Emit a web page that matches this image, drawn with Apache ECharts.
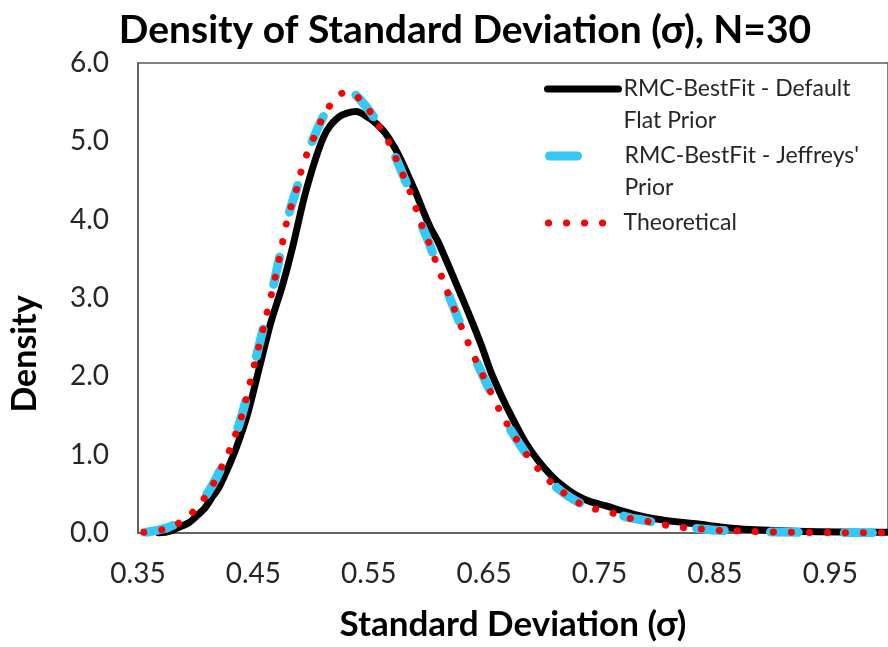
<!DOCTYPE html>
<html><head><meta charset="utf-8">
<script src="https://cdn.jsdelivr.net/npm/echarts@6/dist/echarts.min.js"></script>
<style>html,body{margin:0;padding:0;background:#fff}#c{width:888px;height:647px}</style>
</head><body><div id="c"></div>
<script>
// ---- data ----
const xTicks = [0.35, 0.45, 0.55, 0.65, 0.75, 0.85, 0.95];
const yTicks = [0, 1, 2, 3, 4, 5, 6];
const seriesNames = ["RMC-BestFit - Default Flat Prior", "RMC-BestFit - Jeffreys' Prior", "Theoretical"];
const legendLines = {
  "RMC-BestFit - Default Flat Prior": ["RMC-BestFit - Default", "Flat Prior"],
  "RMC-BestFit - Jeffreys' Prior": ["RMC-BestFit - Jeffreys'", "Prior"],
  "Theoretical": ["Theoretical"]
};

const xFlat = [0.368,0.377,0.385,0.394,0.401,0.408,0.414,0.4197,0.424,0.428,0.435,0.445,0.455,0.465,0.475,0.4835,0.496,0.511,0.524,0.539,0.550,0.557,0.564,0.572,0.579,0.586,0.592,0.598,0.604,0.610,0.616,0.623,0.631,0.640,0.648,0.656,0.665,0.675,0.686,0.697,0.709,0.720,0.730,0.742,0.755,0.770,0.788,0.810,0.8355,0.850,0.865,0.885,0.920,0.960,1.000];
const yFlat = [0.00,0.02,0.07,0.13,0.22,0.32,0.45,0.57,0.70,0.83,1.08,1.52,2.10,2.68,3.15,3.62,4.39,5.06,5.31,5.38,5.30,5.22,5.11,4.93,4.73,4.50,4.30,4.08,3.88,3.72,3.52,3.28,3.00,2.68,2.38,2.05,1.75,1.45,1.15,0.92,0.72,0.58,0.48,0.40,0.35,0.28,0.21,0.155,0.115,0.085,0.060,0.040,0.022,0.013,0.008];

const xJeff = [0.357,0.365,0.376,0.390,0.401,0.410,0.4175,0.424,0.430,0.440,0.450,0.460,0.468,0.476,0.479,0.4835,0.488,0.492,0.497,0.503,0.509,0.5175,0.5286,0.536,0.542,0.552,0.560,0.568,0.574,0.580,0.586,0.591,0.596,0.602,0.608,0.615,0.623,0.632,0.643,0.654,0.665,0.677,0.689,0.701,0.713,0.725,0.738,0.761,0.775,0.791,0.805,0.821,0.836,0.851,0.866,0.880,0.900,0.950,1.000];
const yJeff = [0.01,0.03,0.07,0.17,0.32,0.50,0.69,0.89,1.08,1.50,2.10,2.70,3.20,3.76,3.98,4.21,4.42,4.65,4.86,5.07,5.27,5.49,5.64,5.62,5.54,5.36,5.17,4.97,4.77,4.56,4.35,4.14,3.93,3.71,3.47,3.20,2.90,2.57,2.20,1.85,1.52,1.22,0.96,0.75,0.58,0.45,0.35,0.26,0.20,0.155,0.11,0.075,0.056,0.036,0.030,0.020,0.013,0.005,0.002];

const xTheo = [0.355,0.361,0.376,0.390,0.401,0.410,0.4175,0.424,0.430,0.440,0.450,0.460,0.468,0.476,0.479,0.4835,0.488,0.492,0.497,0.503,0.509,0.5175,0.5286,0.536,0.542,0.552,0.560,0.568,0.574,0.580,0.586,0.591,0.596,0.602,0.608,0.615,0.623,0.632,0.643,0.654,0.665,0.677,0.689,0.701,0.713,0.725,0.738,0.7613,0.7754,0.791,0.805,0.8208,0.8358,0.851,0.866,0.880,0.900,0.950,1.000];
const yTheo = [0.01,0.02,0.06,0.17,0.32,0.50,0.69,0.89,1.08,1.50,2.10,2.70,3.20,3.76,3.98,4.21,4.42,4.65,4.86,5.07,5.27,5.48,5.62,5.61,5.54,5.36,5.17,4.97,4.77,4.56,4.35,4.14,3.93,3.71,3.47,3.20,2.90,2.57,2.20,1.85,1.52,1.22,0.96,0.75,0.58,0.45,0.34,0.254,0.19,0.149,0.106,0.072,0.055,0.034,0.030,0.020,0.013,0.005,0.002];

const pair = (xs, ys) => xs.map((x, i) => [x, ys[i]]);
const FONT = 'Lato';
const TXT = '#262626';

// a blank first line keeps the legend icon level with the first text line
const legendLabel = name => {
  const l = legendLines[name];
  return l.length > 1 ? ' \n' + l.join('\n') : l[0];
};

const chart = echarts.init(document.getElementById('c'), null, {renderer: 'canvas'});
const legendBase = {
  orient: 'vertical', padding: 0, itemHeight: 14, selectedMode: false,
  itemStyle: {color: 'rgba(0,0,0,0)', borderWidth: 0, opacity: 0},
  textStyle: {fontFamily: FONT, fontSize: 23, color: TXT, lineHeight: 32},
  formatter: legendLabel
};
chart.setOption({
  animation: false,
  backgroundColor: '#fff',
  title: {
    text: 'Density of Standard Deviation (σ), N=30',
    left: 460, top: 6, textAlign: 'center',
    textStyle: {fontFamily: FONT, fontWeight: 'bold', fontSize: 39, color: '#000'}
  },
  grid: {left: 128, right: 0, top: 63, bottom: 112, show: true, borderColor: '#595959', borderWidth: 1.5, containLabel: false},
  legend: [
    Object.assign({}, legendBase, {left: 544, top: 41, itemWidth: 71,
      data: [seriesNames[0]], lineStyle: {width: 7}}),
    Object.assign({}, legendBase, {left: 545, top: 108, itemWidth: 70,
      data: [seriesNames[1]], lineStyle: {width: 9}}),
    Object.assign({}, legendBase, {left: 545, top: 207, itemWidth: 70,
      data: [seriesNames[2]], lineStyle: {width: 7}})
  ],
  xAxis: {
    type: 'value', min: 0.35, max: 1.0,
    name: 'Standard Deviation (σ)', nameLocation: 'middle', nameGap: 74,
    nameTextStyle: {fontFamily: FONT, fontWeight: 'bold', fontSize: 35, color: '#000'},
    axisLine: {show: true, lineStyle: {color: '#595959', width: 1.5}},
    axisTick: {show: false},
    splitLine: {show: false},
    axisLabel: {customValues: xTicks, fontFamily: FONT, fontSize: 28, color: TXT, margin: 27,
      formatter: v => v.toFixed(2)}
  },
  yAxis: {
    type: 'value', min: 0, max: 6, interval: 1,
    name: 'Density', nameLocation: 'middle', nameGap: 96,
    nameTextStyle: {fontFamily: FONT, fontWeight: 'bold', fontSize: 34, color: '#000', padding: [0, 112, 0, 0]},
    axisLine: {show: true, lineStyle: {color: '#595959', width: 1.5}},
    axisTick: {show: false},
    splitLine: {show: false},
    axisLabel: {customValues: yTicks, fontFamily: FONT, fontSize: 28, color: TXT, margin: 29,
      formatter: v => v.toFixed(1)}
  },
  series: [
    {name: seriesNames[0], type: 'line', data: pair(xFlat, yFlat), symbol: 'none', smooth: 0.3, z: 2,
      lineStyle: {color: '#000000', width: 7, cap: 'round', join: 'round'}},
    {name: seriesNames[1], type: 'line', data: pair(xJeff, yJeff), symbol: 'none', smooth: 0.3, z: 3,
      lineStyle: {color: '#35C8F5', width: 9, type: [28, 46], cap: 'round', join: 'round'}},
    {name: seriesNames[2], type: 'line', data: pair(xTheo, yTheo), symbol: 'none', smooth: 0.3, z: 4,
      lineStyle: {color: '#FF0000', width: 7, type: [0.1, 17.9], cap: 'round', join: 'round'}}
  ]
});
</script></body></html>
